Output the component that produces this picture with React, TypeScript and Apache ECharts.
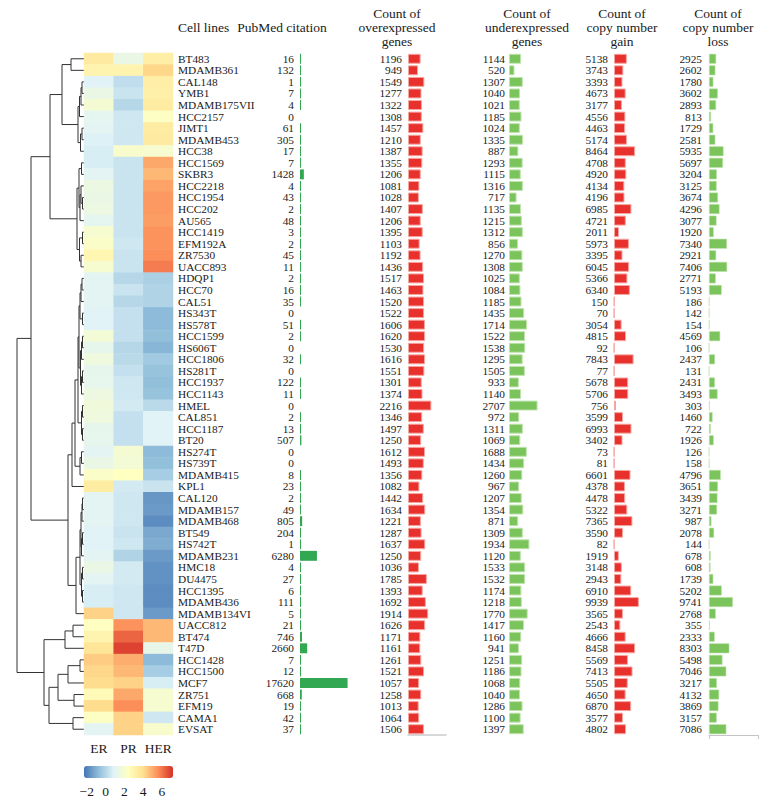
import React, { useEffect, useRef } from "react";
import * as echarts from "echarts";

// Breast cancer cell lines, in dendrogram order (top to bottom)
const cellLines = [
  "BT483", "MDAMB361", "CAL148", "YMB1", "MDAMB175VII", "HCC2157", "JIMT1", "MDAMB453", "HCC38",
  "HCC1569", "SKBR3", "HCC2218", "HCC1954", "HCC202", "AU565", "HCC1419", "EFM192A", "ZR7530", "UACC893",
  "HDQP1", "HCC70", "CAL51", "HS343T", "HS578T", "HCC1599", "HS606T", "HCC1806", "HS281T", "HCC1937",
  "HCC1143", "HMEL", "CAL851", "HCC1187", "BT20", "HS274T", "HS739T", "MDAMB415", "KPL1", "CAL120",
  "MDAMB157", "MDAMB468", "BT549", "HS742T", "MDAMB231", "HMC18", "DU4475", "HCC1395", "MDAMB436", "MDAMB134VI",
  "UACC812", "BT474", "T47D", "HCC1428", "HCC1500", "MCF7", "ZR751", "EFM19", "CAMA1", "EVSAT",
];

// Receptor expression scores (ER, PR, HER2)
const erScore = [
  3.5, 3.0, 0.9, 1.4, 1.9, 1.1, 1.0, 0.8, 0.7,
  0.7, 1.0, 1.5, 1.4, 1.5, 1.1, 2.0, 2.2, 2.9, 2.0,
  1.0, 1.0, 1.0, 0.9, 0.9, 1.8, 1.2, 1.6, 1.2, 1.2,
  1.5, 1.7, 1.6, 1.2, 1.2, 1.0, 1.4, 2.2, 3.4, 1.0,
  1.0, 1.0, 0.9, 0.9, 1.0, 1.4, 1.0, 0.7, 0.7, 4.3,
  2.4, 3.0, 3.8, 4.4, 4.2, 4.1, 2.7, 4.1, 2.3, 1.0,
];
const prScore = [
  1.4, 3.0, 0.2, 0.4, 0.0, 0.5, 0.5, 0.5, 2.1,
  0.4, 0.4, 0.4, 0.4, 0.4, 0.4, 0.4, 0.5, 0.4, 0.4,
  0.0, 0.4, 0.0, 0.3, 0.3, 0.3, 0.0, 0.1, 0.3, 0.5,
  0.5, 0.6, 0.3, 0.3, 0.3, 1.9, 1.8, 2.4, 0.6, 0.5,
  0.5, 0.5, 0.4, 0.5, -0.1, 0.6, 0.6, 0.5, 0.5, 0.5,
  5.5, 6.3, 6.9, 5.0, 4.8, 4.3, 5.1, 5.6, 4.3, 4.3,
];
const herScore = [
  3.3, 4.2, 3.3, 3.2, 3.4, 2.3, 3.4, 3.5, 2.0,
  5.1, 4.8, 5.2, 5.4, 5.4, 5.3, 5.5, 5.5, 5.6, 5.9,
  -0.2, -0.1, -0.1, -0.8, -0.8, -0.7, -0.9, -0.4, -0.6, -0.7,
  -0.6, 0.1, 0.9, 0.9, 0.9, -0.8, -0.7, -0.3, 0.4, -1.6,
  -1.5, -1.8, -1.2, -1.1, -1.5, -1.7, -1.7, -1.8, -1.8, -1.5,
  4.8, 4.8, 1.3, -0.8, -0.3, 0.7, 2.0, 2.0, 0.5, 2.1,
];
const receptors = ["ER", "PR", "HER"];

const pubmedCitations = [
  16, 132, 1, 7, 4, 0, 61, 305, 17,
  7, 1428, 4, 43, 2, 48, 3, 2, 45, 11,
  2, 16, 35, 0, 51, 2, 0, 32, 0, 122,
  11, 0, 2, 13, 507, 0, 0, 8, 23, 2,
  49, 805, 204, 1, 6280, 4, 27, 6, 111, 5,
  21, 746, 2660, 7, 12, 17620, 668, 19, 42, 37,
];
const overexpressed = [
  1196, 949, 1549, 1277, 1322, 1308, 1457, 1210, 1387,
  1355, 1206, 1081, 1028, 1407, 1206, 1395, 1103, 1192, 1436,
  1517, 1463, 1520, 1522, 1606, 1620, 1530, 1616, 1551, 1301,
  1374, 2216, 1346, 1497, 1250, 1612, 1493, 1356, 1082, 1442,
  1634, 1221, 1287, 1637, 1250, 1036, 1785, 1393, 1692, 1914,
  1626, 1171, 1161, 1261, 1521, 1057, 1258, 1013, 1064, 1506,
];
const underexpressed = [
  1144, 520, 1307, 1040, 1021, 1185, 1024, 1335, 887,
  1293, 1115, 1316, 717, 1135, 1215, 1312, 856, 1270, 1308,
  1025, 1084, 1185, 1435, 1714, 1522, 1538, 1295, 1505, 933,
  1140, 2707, 972, 1311, 1069, 1688, 1434, 1260, 967, 1207,
  1354, 871, 1309, 1934, 1120, 1533, 1532, 1174, 1218, 1770,
  1417, 1160, 941, 1251, 1186, 1068, 1040, 1286, 1100, 1397,
];
const copyGain = [
  5138, 3743, 3393, 4673, 3177, 4556, 4463, 5174, 8464,
  4708, 4920, 4134, 4196, 6985, 4721, 2011, 5973, 3395, 6045,
  5366, 6340, 150, 70, 3054, 4815, 92, 7843, 77, 5678,
  5706, 756, 3599, 6993, 3402, 73, 81, 6601, 4378, 4478,
  5322, 7365, 3590, 82, 1919, 3148, 2943, 6910, 9939, 3565,
  2543, 4666, 8458, 5569, 7413, 5505, 4650, 6870, 3577, 4802,
];
const copyLoss = [
  2925, 2602, 1780, 3602, 2893, 813, 1729, 2581, 5935,
  5697, 3204, 3125, 3674, 4296, 3077, 1920, 7340, 2921, 7406,
  2771, 5193, 186, 142, 154, 4569, 106, 2437, 131, 2431,
  3493, 303, 1460, 722, 1926, 126, 158, 4796, 3651, 3439,
  3271, 987, 2078, 144, 678, 608, 1739, 5202, 9741, 2768,
  355, 2333, 8303, 5498, 7046, 3217, 4132, 3869, 3157, 7086,
];

const colorbarTicks = [-2, 0, 2, 4, 6];

// Hierarchical clustering: [left, right, merge height]
type Tree = string | [Tree, Tree, number];
const clustering: Tree = [
  [
    [
      [
        ["BT483", "MDAMB361", 13],
        [
          [[["CAL148", "YMB1", 2], "MDAMB175VII", 3], "HCC2157", 4.5],
          [["JIMT1", "MDAMB453", 2], "HCC38", 3.5],
          6,
        ],
        22,
      ],
      [
        [
          ["HCC1569", "SKBR3", 2.5],
          [["HCC2218", ["HCC1954", "HCC202", 1.5], 3], "AU565", 4],
          5,
        ],
        [["HCC1419", "EFM192A", 1.5], ["ZR7530", "UACC893", 3], 4.5],
        7,
      ],
      34,
    ],
    [
      [
        [
          [
            [
              [[["HDQP1", "HCC70", 2], "CAL51", 3], ["HS343T", "HS578T", 1.5], 4],
              [[["HCC1599", "HS606T", 1.5], "HCC1806", 2.5], [["HS281T", "HCC1937", 1.5], "HCC1143", 2.5], 3.5],
              5,
            ],
            [["HMEL", "CAL851", 1.5], ["HCC1187", "BT20", 1.5], 2.5],
            6,
          ],
          [["HS274T", "HS739T", 2.5], "MDAMB415", 4],
          9,
        ],
        "KPL1",
        12,
      ],
      [
        [
          [[["CAL120", "MDAMB157", 1.5], "MDAMB468", 2], [["BT549", "HS742T", 1.5], "MDAMB231", 2.5], 3],
          [["HMC18", "DU4475", 1.5], ["HCC1395", "MDAMB436", 1.5], 2.5],
          4,
        ],
        "MDAMB134VI",
        8,
      ],
      16,
    ],
    53,
  ],
  [
    [["UACC812", "BT474", 11], "T47D", 19],
    [
      [[["HCC1428", "HCC1500", 4], "MCF7", 16], ["ZR751", "EFM19", 10], 26],
      ["CAMA1", "EVSAT", 11],
      35,
    ],
    40,
  ],
  67,
];

const FONT = "'Liberation Serif', 'Times New Roman', serif";
const TEXT = "#1a1a1a";
const TOP = 53;
const HEIGHT = 682;

function dendrogramSegments(tree: Tree): number[][] {
  const segs: number[][] = [];
  const walk = (n: Tree): { y: number; h: number } => {
    if (typeof n === "string") return { y: cellLines.indexOf(n), h: 0 };
    const a = walk(n[0]);
    const b = walk(n[1]);
    segs.push([a.h, a.y, b.h, b.y, n[2]]);
    return { y: (a.y + b.y) / 2, h: n[2] };
  };
  walk(tree);
  return segs;
}

function valueAxisLabels(values: number[], margin: number) {
  return {
    interval: 0,
    margin,
    fontFamily: FONT,
    fontSize: 11.3,
    color: TEXT,
    formatter: (_: string, i: number) => String(values[i]),
  };
}

function barColumnAxes(gridIndex: number, values: number[], margin: number) {
  return {
    type: "category",
    gridIndex,
    data: cellLines,
    inverse: true,
    axisLine: { show: false },
    axisTick: { show: false },
    axisLabel: valueAxisLabels(values, margin),
  };
}

export default function App() {
  const ref = useRef<HTMLDivElement>(null);

  useEffect(() => {
    if (!ref.current) return;
    document.body.style.margin = "0";
    const chart = echarts.init(ref.current, null, { renderer: "svg" });

    const heatData: number[][] = [];
    cellLines.forEach((_, i) => {
      heatData.push([0, i, erScore[i]]);
      heatData.push([1, i, prScore[i]]);
      heatData.push([2, i, herScore[i]]);
    });

    const hiddenValueAxis = (gridIndex: number, max: number) => ({
      type: "value",
      gridIndex,
      min: 0,
      max,
      show: false,
    });

    const header = (text: string, x: number, y: number, align = "center") => ({
      type: "text",
      x,
      y,
      style: {
        text,
        fontFamily: FONT,
        fontSize: 13.5,
        lineHeight: 14,
        fill: TEXT,
        align,
        verticalAlign: "top",
      },
    });

    const barBase = {
      type: "bar",
      barCategoryGap: "14%",
      silent: true,
    };

    chart.setOption({
      animation: false,
      backgroundColor: "#ffffff",
      grid: [
        { left: 0, top: TOP, width: 84, height: HEIGHT },
        { left: 84, top: TOP, width: 89, height: HEIGHT },
        { left: 300, top: TOP, width: 54, height: HEIGHT },
        { left: 408, top: TOP, width: 38, height: HEIGHT },
        { left: 509, top: TOP, width: 38, height: HEIGHT },
        { left: 614, top: TOP, width: 50, height: HEIGHT },
        { left: 709, top: TOP, width: 49, height: HEIGHT },
        { left: 84, top: 778, width: 89, height: 1 },
      ],
      xAxis: [
        { type: "value", gridIndex: 0, min: 0, max: 84, inverse: true, show: false },
        {
          type: "category",
          gridIndex: 1,
          data: receptors,
          axisLine: { show: false },
          axisTick: { show: false },
          axisLabel: { interval: 0, fontFamily: FONT, fontSize: 13.5, color: TEXT, margin: 6 },
        },
        hiddenValueAxis(2, 20000),
        {
          type: "value",
          gridIndex: 3,
          min: 0,
          max: 3600,
          axisLine: { show: true, lineStyle: { color: "#cccccc", width: 1.5 } },
          axisTick: { show: false },
          axisLabel: { show: false },
          splitLine: { show: false },
        },
        hiddenValueAxis(4, 3600),
        hiddenValueAxis(5, 20000),
        {
          type: "value",
          gridIndex: 6,
          min: 0,
          max: 20000,
          interval: 20000,
          axisLine: { show: true, lineStyle: { color: "#c4c4c4", width: 1.2 } },
          axisTick: { show: true, length: 4, lineStyle: { color: "#c4c4c4" } },
          axisLabel: { show: false },
          splitLine: { show: false },
        },
        {
          type: "value",
          gridIndex: 7,
          min: -2.3,
          max: 7.2,
          axisLine: { show: false },
          axisTick: { show: false },
          splitLine: { show: false },
          axisLabel: {
            customValues: colorbarTicks,
            margin: 5,
            fontFamily: FONT,
            fontSize: 13.5,
            color: TEXT,
            formatter: (v: number) => (v < 0 ? "\u2212" + Math.abs(v) : String(v)),
          },
        },
      ],
      yAxis: [
        { type: "value", gridIndex: 0, min: -0.5, max: cellLines.length - 0.5, inverse: true, show: false },
        {
          type: "category",
          gridIndex: 1,
          data: cellLines,
          inverse: true,
          position: "right",
          axisLine: { show: false },
          axisTick: { show: false },
          axisLabel: { interval: 0, margin: 5, fontFamily: FONT, fontSize: 11.3, color: TEXT },
        },
        barColumnAxes(2, pubmedCitations, 6),
        barColumnAxes(3, overexpressed, 6),
        barColumnAxes(4, underexpressed, 4),
        barColumnAxes(5, copyGain, 6),
        barColumnAxes(6, copyLoss, 7),
        { type: "value", gridIndex: 7, show: false },
      ],
      visualMap: {
        type: "continuous",
        seriesIndex: 1,
        min: -2.3,
        max: 7.2,
        orient: "horizontal",
        left: 84,
        top: 766,
        padding: 0,
        itemWidth: 12,
        itemHeight: 89,
        calculable: false,
        hoverLink: false,
        text: ["", ""],
        inRange: {
          color: ["#4575b4", "#91bfdb", "#e0f3f8", "#ffffbf", "#fee090", "#fc8d59", "#d73027"],
        },
      },
      graphic: [
        header("Cell lines", 178, 20, "left"),
        header("PubMed citation", 282, 20),
        header("Count of\noverexpressed\ngenes", 397, 6),
        header("Count of\nunderexpressed\ngenes", 527, 6),
        header("Count of\ncopy number\ngain", 622, 6),
        header("Count of\ncopy number\nloss", 718, 6),
      ],
      series: [
        {
          type: "custom",
          xAxisIndex: 0,
          yAxisIndex: 0,
          silent: true,
          clip: false,
          encode: { x: [0, 2, 4], y: [1, 3] },
          data: dendrogramSegments(clustering),
          renderItem: (_: unknown, api: any) => {
            const h1 = api.value(0), y1 = api.value(1), h2 = api.value(2), y2 = api.value(3), hp = api.value(4);
            return {
              type: "polyline",
              shape: {
                points: [api.coord([h1, y1]), api.coord([hp, y1]), api.coord([hp, y2]), api.coord([h2, y2])],
              },
              style: { stroke: "#333333", lineWidth: 1, fill: "none" },
            };
          },
        },
        {
          type: "heatmap",
          xAxisIndex: 1,
          yAxisIndex: 1,
          silent: true,
          data: heatData,
          itemStyle: { borderWidth: 0 },
        },
        {
          ...barBase,
          xAxisIndex: 2,
          yAxisIndex: 2,
          barMinHeight: 1,
          itemStyle: { color: "#33a852" },
          data: pubmedCitations.map((v) => (v === 0 ? { value: v, itemStyle: { opacity: 0 } } : v)),
        },
        {
          ...barBase,
          xAxisIndex: 3,
          yAxisIndex: 3,
          itemStyle: { color: "#e8302c", borderColor: "#f5a5a0", borderWidth: 1 },
          data: overexpressed,
        },
        {
          ...barBase,
          xAxisIndex: 4,
          yAxisIndex: 4,
          itemStyle: { color: "#7bc35b", borderColor: "#bfe3ae", borderWidth: 1 },
          data: underexpressed,
        },
        {
          ...barBase,
          xAxisIndex: 5,
          yAxisIndex: 5,
          itemStyle: { color: "#e8302c", borderColor: "#f5a5a0", borderWidth: 1 },
          data: copyGain,
        },
        {
          ...barBase,
          xAxisIndex: 6,
          yAxisIndex: 6,
          itemStyle: { color: "#7bc35b", borderColor: "#bfe3ae", borderWidth: 0.6 },
          data: copyLoss,
        },
      ],
    });

    return () => chart.dispose();
  }, []);

  return <div ref={ref} style={{ width: 769, height: 801 }} />;
}
